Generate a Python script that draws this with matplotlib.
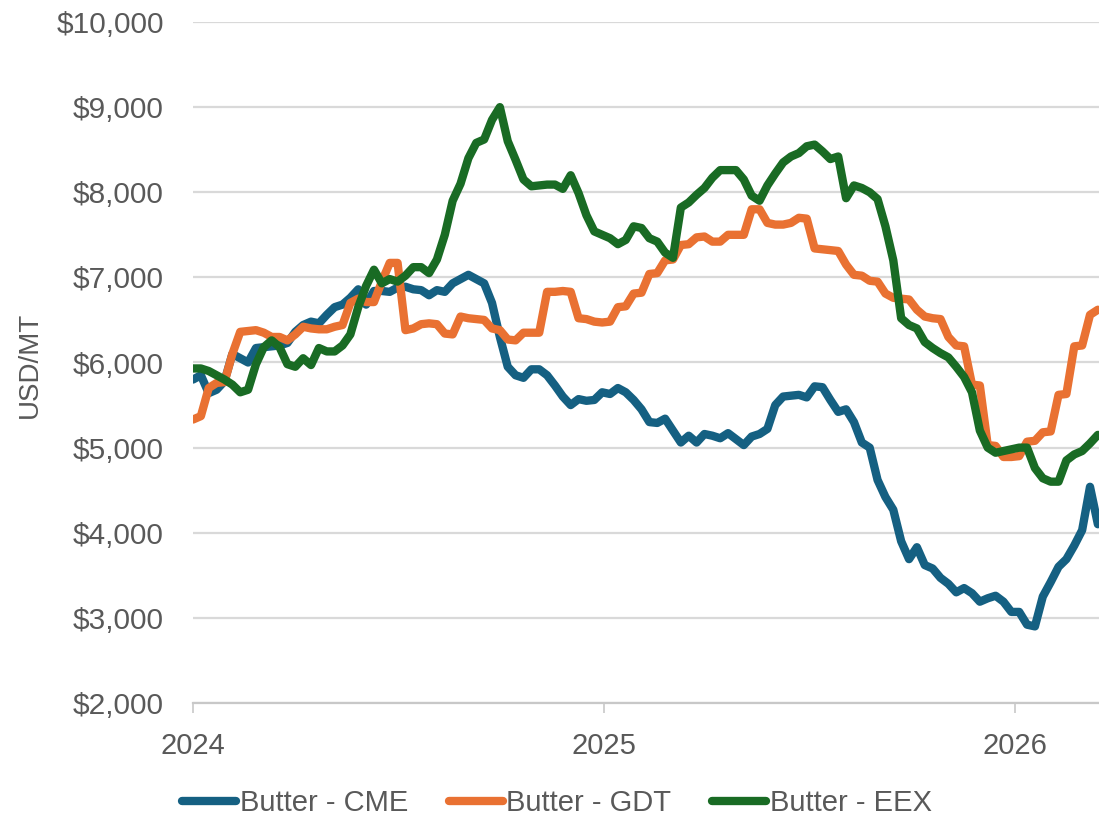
import pandas as pd
import matplotlib
matplotlib.use('Agg')
import matplotlib.pyplot as plt
import matplotlib.dates as mdates
from matplotlib.ticker import FuncFormatter

# Weekly butter prices (USD/MT)
start_date = '2024-01-01'
n_weeks = 116

cme = [5800, 5850, 5640, 5680, 5780, 6100, 6050, 6000, 6170, 6180,
       6190, 6200, 6230, 6360, 6440, 6480, 6460, 6560, 6650, 6680,
       6760, 6860, 6680, 6840, 6840, 6830, 6880, 6890, 6860, 6850,
       6790, 6850, 6830, 6930, 6980, 7030, 6980, 6930, 6700, 6300,
       5950, 5850, 5820, 5920, 5920, 5850, 5730, 5600, 5500, 5570,
       5550, 5560, 5650, 5630, 5700, 5650, 5560, 5450, 5300, 5290,
       5340, 5200, 5060, 5140, 5060, 5160, 5140, 5110, 5170, 5100,
       5030, 5130, 5160, 5220, 5500, 5600, 5610, 5620, 5590, 5720,
       5710, 5560, 5420, 5450, 5300, 5060, 5000, 4620, 4420, 4270,
       3900, 3690, 3830, 3620, 3580, 3470, 3400, 3300, 3350, 3290,
       3190, 3230, 3260, 3190, 3070, 3070, 2920, 2900, 3250, 3420,
       3600, 3690, 3850, 4030, 4540, 4100]

gdt = [5330, 5370, 5700, 5760, 5770, 6100, 6360, 6370, 6380, 6350,
       6300, 6300, 6260, 6330, 6420, 6400, 6390, 6390, 6420, 6440,
       6700, 6750, 6710, 6710, 6950, 7170, 7170, 6380, 6400, 6450,
       6460, 6450, 6340, 6330, 6540, 6520, 6510, 6500, 6400, 6380,
       6270, 6260, 6350, 6350, 6350, 6830, 6830, 6840, 6830, 6520,
       6510, 6480, 6470, 6480, 6650, 6660, 6810, 6820, 7040, 7050,
       7200, 7210, 7380, 7390, 7470, 7480, 7420, 7420, 7500, 7500,
       7500, 7800, 7800, 7640, 7620, 7620, 7640, 7700, 7690, 7340,
       7330, 7320, 7310, 7150, 7030, 7020, 6960, 6950, 6810, 6760,
       6750, 6740, 6620, 6540, 6520, 6510, 6300, 6200, 6190, 5740,
       5730, 5030, 5020, 4890, 4890, 4900, 5070, 5080, 5180, 5190,
       5620, 5630, 6190, 6200, 6560, 6620]

eex = [5930, 5930, 5900, 5850, 5800, 5740, 5650, 5680, 5980, 6180,
       6260, 6180, 5980, 5950, 6050, 5970, 6170, 6130, 6130, 6200,
       6330, 6650, 6900, 7090, 6930, 6980, 6950, 7020, 7120, 7120,
       7050, 7210, 7500, 7900, 8100, 8400, 8580, 8620, 8850, 9000,
       8600, 8380, 8150, 8070, 8080, 8090, 8090, 8040, 8200, 7990,
       7730, 7540, 7500, 7460, 7390, 7440, 7600, 7580, 7460, 7420,
       7290, 7230, 7820, 7880, 7970, 8050, 8170, 8260, 8260, 8260,
       8150, 7960, 7900, 8080, 8220, 8350, 8420, 8460, 8540, 8560,
       8480, 8390, 8420, 7930, 8080, 8050, 8000, 7920, 7600, 7200,
       6520, 6440, 6400, 6240, 6170, 6110, 6060, 5950, 5830, 5650,
       5200, 5000, 4940, 4960, 4980, 5000, 5000, 4760, 4640, 4600,
       4600, 4850, 4920, 4960, 5050, 5150]

labels = ['Butter - CME', 'Butter - GDT', 'Butter - EEX']
colors = ['#156082', '#E97132', '#196B24']
year_ticks = ['2024-01-01', '2025-01-01', '2026-01-01']

dates = pd.date_range(start_date, periods=n_weeks, freq='7D')

plt.rcParams['font.family'] = ['Liberation Sans', 'DejaVu Sans']
text_color = '#595959'

fig = plt.figure(figsize=(10.99, 8.21), dpi=100)
ax = fig.add_axes([193 / 1099, 1 - 703 / 821, 1 - 193 / 1099, (703 - 22) / 821])

for vals, lab, col in zip([cme, gdt, eex], labels, colors):
    ax.plot(dates, vals, color=col, lw=6, label=lab,
            solid_joinstyle='round', solid_capstyle='round')

# Eixos
ax.set_ylim(2000, 10000)
ax.set_yticks(range(2000, 10001, 1000))
ax.yaxis.set_major_formatter(FuncFormatter(lambda v, p: '${:,.0f}'.format(v)))
ax.set_xlim(pd.Timestamp(start_date), pd.Timestamp('2026-03-17'))
ax.set_xticks(pd.to_datetime(year_ticks))
ax.xaxis.set_major_formatter(mdates.DateFormatter('%Y'))

ax.grid(axis='y', color='#D9D9D9', lw=1.6)
ax.set_axisbelow(True)
for s in ['top', 'right', 'left']:
    ax.spines[s].set_visible(False)
ax.spines['bottom'].set_color('#C8C8C8')
ax.spines['bottom'].set_linewidth(1.6)

ax.tick_params(axis='y', length=0, pad=21, labelsize=21.5, labelcolor=text_color)
ax.tick_params(axis='x', length=7, width=1.2, color='#C8C8C8', pad=14,
               labelsize=21, labelcolor=text_color)

fig.text(30 / 1099, 1 - 365 / 821, 'USD/MT', rotation=90, ha='center', va='center',
         fontsize=20, color=text_color)

leg = fig.legend(loc='center', bbox_to_anchor=(557 / 1099, 1 - 803 / 821), ncol=3,
                 frameon=False, fontsize=21, handlelength=1.85, handletextpad=0.12,
                 columnspacing=1.4, labelcolor=text_color)
for line in leg.get_lines():
    line.set_linewidth(6)

fig.savefig('out.png', dpi=100)
